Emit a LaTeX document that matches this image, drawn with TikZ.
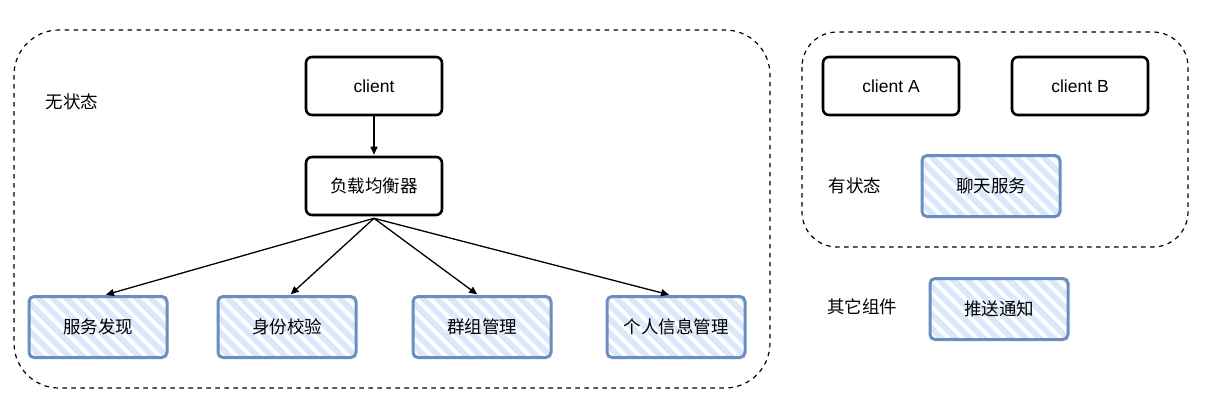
\documentclass[tikz,border=0pt]{standalone}
\usepackage{fontspec}
\setmainfont{Liberation Sans}
\newfontfamily\cjk{Noto Sans CJK SC}
\usetikzlibrary{arrows.meta}
\definecolor{hatchc}{HTML}{DAE8FC}
\definecolor{bstroke}{HTML}{6C8EBF}
\begin{document}
\begin{tikzpicture}[x=1pt,y=-1pt,
  txt/.style={font=\fontsize{17.5}{20}\selectfont},
  ctxt/.style={font=\cjk\fontsize{17.5}{20}\selectfont},
  blackbox/.style={draw=black, line width=2.6pt, rounded corners=6pt, minimum width=136pt, minimum height=58pt, fill=white, inner sep=0pt},
  hatchbox/.style={draw=bstroke, line width=3pt, rounded corners=5pt, minimum width=138pt, minimum height=61pt, inner sep=0pt, fill=white,
    path picture={
      \coordinate (nw) at (path picture bounding box.north west);
      \foreach \i in {-6,...,12} {\draw[hatchc, line width=6pt] ([xshift=\i*14pt, yshift=8pt]nw) -- ++(80pt,-80pt);}
    }},
  container/.style={draw=black, line width=1.2pt, dash pattern=on 4.5pt off 4.5pt},
  arr/.style={-{Triangle[length=8pt,width=7pt]}, line width=1.3pt, shorten >=1pt}
]
\useasboundingbox (0,0) rectangle (1205,413);
% containers
\draw[container, rounded corners=45pt] (14,30) rectangle (770,388);
\draw[container, rounded corners=35pt] (802,32) rectangle (1188,247);
% labels
\node[ctxt] (l1) at (72,102) {无状态};
\node[ctxt] (l2) at (855,186) {有状态};
\node[ctxt] (l3) at (862,307) {其它组件};
% black boxes
\node[blackbox, txt] (client) at (374,86) {client};
\node[blackbox, ctxt] (lb) at (374,186) {负载均衡器};
\node[blackbox, txt] (ca) at (891,86) {client A};
\node[blackbox, txt] (cb) at (1080,86) {client B};
% hatched boxes
\node[hatchbox, ctxt] (s1) at (98,327) {服务发现};
\node[hatchbox, ctxt] (s2) at (287,327) {身份校验};
\node[hatchbox, ctxt] (s3) at (482,327) {群组管理};
\node[hatchbox, ctxt] (s4) at (676,327) {个人信息管理};
\node[hatchbox, ctxt] (chat) at (991,186) {聊天服务};
\node[hatchbox, ctxt] (push) at (999,309) {推送通知};
% arrows
\draw[arr] (client.south) -- (lb.north);
\coordinate (o) at ([yshift=-2pt]lb.south);
\draw[arr] (o) -- ([xshift=7pt]s1.north);
\draw[arr] (o) -- ([xshift=3pt]s2.north);
\draw[arr] (o) -- ([xshift=-4pt]s3.north);
\draw[arr] (o) -- ([xshift=-6pt]s4.north);
\end{tikzpicture}
\end{document}
